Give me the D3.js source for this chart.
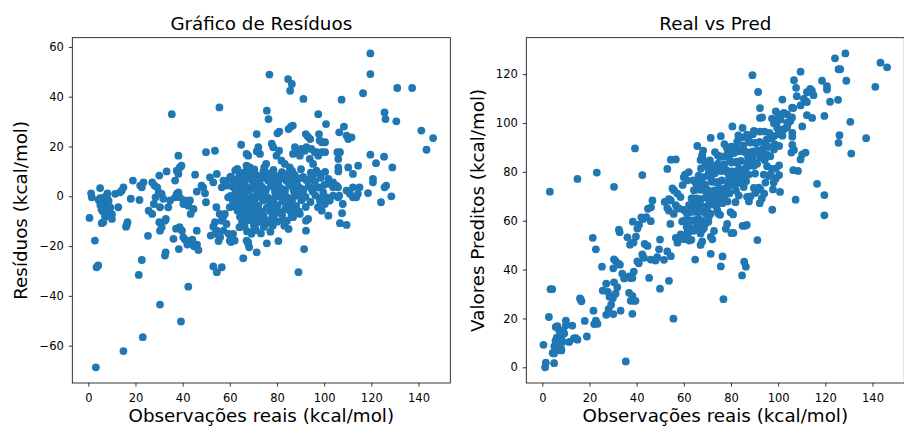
<!DOCTYPE html>
<html>
<head>
<meta charset="utf-8">
<script src="https://cdn.jsdelivr.net/npm/d3@7"></script>
<style>
  html, body { margin: 0; padding: 0; background: #fff; }
  svg { display: block; font-family: "DejaVu Sans", sans-serif; }
</style>
</head>
<body>
<div id="chart"></div>
<script>
// [observação real, resíduo] (kcal/mol)
const observacoes = [
  [0.5,-8.7],[1.2,1.2],[1.5,-0.4],[2.8,-17.8],[3.5,-28.5],[4.2,-27.8],[3.2,-68.7],[5,3.3],
  [4.4,-1.5],[5.1,-3.5],[5.8,-2.8],[6.5,-4.8],[7.2,-1.5],[7.6,-6.9],[6.5,-0.5],[7.9,0.3],[8.6,-1.8],[9.3,-4.5],[10,-7.2],[5,-0.7],[6.1,-6],[8.1,-4],[5.6,-5.2],[7.1,-8.2],[8.9,-6],
  [5.7,-10.8],[6.4,-10.4],[8.1,1.2],[10,-9.1],
  [11.4,1],[13.4,1.6],[14.9,3.6],[14.2,2.3],[12.7,-4.4],[16,-12.2],[16.6,-10.4],[16.3,-11.5],[14.9,-62.2],[18,-1],[18.9,6.3],
  [22,4.3],[22.7,3.6],[23.4,5.6],[21.7,-1.5],[21.4,-31.6],[22.7,-25.6],[23.1,-56.6],[25.3,-15.9],
  [25.6,-5.8],[27.1,-7.1],[27.8,-3.1],[28.5,-0.4],[27.1,5.6],[28.1,4.3],[29.2,3.6],[29.9,1.6],[31.1,1],[31.8,-1],[30.4,-4.4],
  [30.4,-43.5],[30.1,-10.4],[30.4,-13.8],[31.1,-12.4],[32.5,-9.8],[32.9,-9.1],[32.5,-23.8],[32.8,-22.5],[30.1,8.3],[33.2,10],[33.9,-4.4],[34.7,-1.7],[35.4,33],[36.1,-17.1],
  [36.8,-0.4],[37.5,1],[38.2,1.6],[38.8,-0.4],[40.3,-3.1],[40.9,-1.7],[42.4,-3.8],
  [36.8,6.3],[37.5,10.3],[38.2,9],[38.8,11.6],[39.5,12.3],[38.2,16.3],
  [37.2,-13],[38.7,-12.4],[39.7,-13.8],[40.3,-16.5],[38.4,-21.2],[39.3,-50.3],
  [41,-17.4],[42,-19.4],[42.7,-18],[44.1,-17.4],[44.8,-20.1],[46.1,-19.4],
  [42.4,-36.3],[43.4,-7.1],[44.6,-5.1],[43.1,-1.7],[45.3,8.7],[46,1.9],[46,-13.8],[46.7,-21.6],
  [48,4.3],[48.7,3.6],[49.5,1.2],[49.9,17.7],[53.7,18.3],[49.9,-2.4],[51.6,7.6],[53,5.6],[54.5,9],
  [51.9,-15.8],[53.7,-15.1],[55.2,-18],[55.9,-16.5],[53,-12.2],[53.7,-10.4],[54.5,-13.8],
  [53,-28.2],[54.5,-30.5],[56.6,-28.5],[55.6,35.7],
  [56.6,3.6],[57.3,6.3],[58.7,4.3],[60.1,7.6],[61.5,6.3],
  [59.3,-0.4],[60,-4.4],[57.9,-7.1],[56.6,-9.8],[57.3,-13.8],[59.5,-15.1],[60,-17.8],[60.5,-18.4],
  [63.2,11],[64.8,20.7],[65.7,-24.9],[67.1,17],[67.8,16.3],
  [67.1,12.3],[67.8,11.6],[68.5,11.6],[69.2,10.3],[70.6,9],
  [71.4,25],[71.4,18],[72.1,19.7],[72.8,17],[71.4,-22.5],
  [67.1,-17.8],[67.8,-18.4],[68.2,-20.5],[69.2,-14.4],[70.6,-11.1],
  [75.4,13],[74.6,11.6],[75.7,34.4],[76.4,31],[76.8,48.9],[75.7,-18.9],[78.4,19.7],[77.8,21.1],[80.2,25.3],[81,26],[80.6,-18],[78.2,-11.8],
  [84.7,47.1],[86.3,45.1],[85.6,42.4],[84.9,27],[85.9,28],[86.7,28.4],[87.6,19.7],[84.9,-13.1],[89.1,-30.5],[91.5,-21.2],[91.2,39.1],[92.2,25],[93.1,24],[94.1,23],[92.3,-9.8],[93.2,-9.1],[92.3,-13.8],
  [97.5,33],[97.8,25],[98.1,22.4],[99,17.7],[100.4,17.7],[96.8,17.7],[97.5,16.3],[100.8,29],[100.4,21.7],[99,21.7],
  [99,-5.8],[101.8,-7.8],[99.7,-1.7],
  [100.4,9.8],[101.8,7],[102.5,5],[103.8,3.6],[105.2,4.3],[103.8,0.3],[105.9,-0.4],
  [106.4,25.7],[108.4,28],[109.5,24.4],[110.2,23],[111.6,23.7],[107.4,38.8],
  [105.6,17.7],[106.7,17.7],[106,15],[106,11.6],[106,10],
  [106.4,0.3],[107.9,-3.1],[107.6,-6.8],[106.7,-10.8],[109.5,-11.5],
  [109.5,2.3],[110.9,1],[112.2,-0.4],[113.6,-0.4],[114.3,1],[115,3.6],[112.2,3.6],
  [110.2,11.6],[112.2,9],[114.4,12.3],
  [116.5,41.4],[119.6,57.4],[119.6,49.1],[119.6,16.7],[120.7,7],[120.7,5.6],[118.6,1.3],[122,13.3],[124.1,-2.4],[125.4,15.9],[125.6,33.7],[126,31],[125.6,3.6],[126.3,4.3],[128.9,11.6],[128.5,0],[130.6,30.1],[131,43.5],[137.3,43.5],[141.2,26.4],[143.4,18.7],[146.2,23.4],
  [79.8,16.3],[80.9,18.3],[81.9,14.3],[83.3,13],[85.4,11.6],[86.8,17],[88.3,18.3],[89.7,16.3],[90.4,19],[91.8,18.3],[92.5,19.7],[94.6,19],[96,17.7],[93.9,15],[95.3,13],[96.7,10.3],[98.2,9],
  [98.2,3.6],[99.6,1.6],[101,-0.4],[102.4,-1.7],[100.3,-3.1],[98.2,-1.7],[97.4,-4.4],
  [54.3,-4.4],[55.7,-7.1],[57.1,-8.4],[58.6,-11.1],
  [102.4,5],[103.8,5.6],[104.5,4.3],[105.9,3.6],
  [61.4,-15.1],[62.1,-17.8],[67.8,-19.1],[69.2,-15.1],[70.6,-12.4],[72.7,-8.4],[82.6,-9.8],[86.8,-8.4],[89.7,-7.1],
  // núcleo denso
  [62.3,10.4],[66.1,9.6],[70.4,10.8],[74.2,9.9],[78.5,10.6],[82.1,9.7],[86.4,10.2],[90.2,10.9],[94.3,9.5],
  [60.4,7.9],[64.2,8.3],[67.5,7.6],[71.3,8.4],[75.1,7.7],[79.4,8.2],[83.2,7.5],[87.5,8.6],[91.1,7.8],[95.2,8.1],[98.6,7.4],
  [58.4,5.8],[63.1,6.2],[66.3,5.5],[69.4,6.4],[72.6,5.9],[76.2,6.3],[80.5,5.6],[84.1,6.1],[88.3,5.7],[92.4,6.5],[96.1,5.9],
  [61.2,3.8],[64.5,4.3],[67.3,3.6],[70.2,4.4],[73.5,3.9],[77.4,4.2],[81.1,3.7],[85.3,4.5],[89.2,3.8],[93.4,4.1],[97.2,3.5],[100.1,4.6],
  [62.4,2.2],[65.3,1.7],[68.2,2.4],[71.5,1.8],[75.3,2.3],[79.2,1.6],[83.4,2.1],[87.3,1.5],[91.2,2.4],[95.1,1.9],
  [60.3,0.2],[63.4,-0.3],[66.2,0.4],[69.3,-0.2],[72.4,0.3],[76.1,-0.4],[80.3,0.1],[84.2,-0.3],[88.4,0.4],[92.1,-0.2],[96.3,0.3],[99.2,-0.4],
  [61.3,-1.8],[64.4,-2.3],[67.2,-1.6],[70.3,-2.2],[74.1,-1.7],[78.2,-2.4],[82.3,-1.9],[86.2,-2.1],[90.3,-1.6],[94.2,-2.3],
  [62.2,-4.2],[65.4,-3.7],[68.3,-4.4],[72.1,-3.8],[76.3,-4.3],[80.2,-3.6],[84.4,-4.1],[88.1,-3.9],[92.2,-4.3],
  [63.3,-5.8],[66.4,-6.3],[69.1,-5.7],[73.2,-6.2],[77.1,-5.9],[81.3,-6.4],[85.2,-5.6],[89.3,-6.1],
  [64.3,-8.2],[67.4,-7.7],[70.1,-8.3],[74.3,-7.8],[78.1,-8.1],[82.2,-7.6],[86.1,-8.2],
  [65.2,-10.1],[68.1,-9.7],[72.2,-10.3],[76.4,-9.8],[80.1,-10.2],
  [66.3,-12.2],[70.2,-11.7],[74.4,-12.3],[83.1,-11.8],
  [67.3,-14.1],[71.1,-13.6],[77.2,-14.2],
  [68.3,9.1],[76.4,9.2],[84.3,8.9],[72.3,4.9],[79.3,5.1],[86.4,4.8],[65.3,1],[73.4,0.9],[81.2,1.1],[89.3,0.9],
  [69.4,-3],[77.3,-3.1],[85.4,-2.9],[71.2,-7.1],[79.2,-6.9],[87.2,-7],[75.2,-11.1],[73.2,-14.9],[64.1,-12.4],
  [61.8,6.9],[65.7,7.2],[69.6,7],[73.5,7.3],[77.6,6.8],[81.7,7.1],[85.8,6.9],[89.7,7.2],[93.6,6.8],
  [63,3.1],[66.8,2.8],[70.8,3.2],[74.8,2.9],[78.8,3.3],[82.7,2.8],[86.8,3.1],[90.8,2.9],[94.6,3.2],
  [62.7,-0.9],[66.7,-1.1],[70.9,-0.8],[74.6,-1.2],[78.7,-0.9],[82.6,-1.1],[86.7,-0.8],[90.6,-1.2],
  [64,-5.1],[67.8,-4.9],[71.7,-5.2],[75.6,-4.8],[79.6,-5.1],[83.5,-4.9],[87.6,-5.2],
  [66.6,-9],[70.6,-9.2],[74.5,-8.9],[78.6,-9.1],[84.2,-9.9]
];

const reais = observacoes.map(d => d[0]);
const residuos = observacoes.map(d => d[1]);
// predito = real - resíduo
const preditos = observacoes.map(d => d[0] - d[1]);

const xTicks = [0, 20, 40, 60, 80, 100, 120, 140];
const residuoTicks = [-60, -40, -20, 0, 20, 40, 60];
const preditoTicks = [0, 20, 40, 60, 80, 100, 120];

const W = 904, H = 428;
const cor = "#1f77b4";

const svg = d3.select("#chart").append("svg")
    .attr("width", W)
    .attr("height", H);

// limites no estilo matplotlib (margem de 5%)
function dominio(vals) {
    const [a, b] = d3.extent(vals);
    const m = (b - a) * 0.05;
    return [a - m, b + m];
}

function painel(cfg) {
    const top = 37.7, h = 345.3, w = 378;
    const g = svg.append("g");

    const x = d3.scaleLinear().domain(dominio(reais)).range([cfg.left, cfg.left + w]);
    const y = d3.scaleLinear().domain(dominio(cfg.valores)).range([top + h, top]);

    g.append("g")
        .selectAll("circle")
        .data(reais.map((r, i) => [r, cfg.valores[i]]))
        .join("circle")
        .attr("cx", d => x(d[0]))
        .attr("cy", d => y(d[1]))
        .attr("r", 3.9)
        .attr("fill", cor);

    const xAxis = g.append("g")
        .attr("transform", `translate(0,${top + h})`)
        .call(d3.axisBottom(x).tickValues(xTicks).tickSize(3.5).tickPadding(7).tickFormat(d3.format("d")));
    const yAxis = g.append("g")
        .attr("transform", `translate(${cfg.left},0)`)
        .call(d3.axisLeft(y).tickValues(cfg.yTicks).tickSize(3.5).tickPadding(5).tickFormat(d3.format("d")));

    [xAxis, yAxis].forEach(a => {
        a.select(".domain").remove();
        a.selectAll("line").attr("stroke", "#000").attr("stroke-width", 0.8);
        a.selectAll("text")
            .attr("fill", "#000")
            .style("font-family", "DejaVu Sans")
            .style("font-size", "11.5px");
    });

    g.append("rect")
        .attr("x", cfg.left)
        .attr("y", top)
        .attr("width", w)
        .attr("height", h)
        .attr("fill", "none")
        .attr("stroke", "#000")
        .attr("stroke-width", 0.8);

    g.append("text")
        .attr("x", cfg.left + w / 2)
        .attr("y", 30)
        .attr("text-anchor", "middle")
        .style("font-size", "18.3px")
        .text(cfg.titulo);

    g.append("text")
        .attr("x", cfg.left + w / 2)
        .attr("y", 422)
        .attr("text-anchor", "middle")
        .style("font-size", "18.3px")
        .text("Observações reais (kcal/mol)");

    g.append("text")
        .attr("transform", `translate(${cfg.yLabelX},${top + h / 2}) rotate(-90)`)
        .attr("text-anchor", "middle")
        .style("font-size", "18.3px")
        .text(cfg.yRotulo);
}

painel({ titulo: "Gráfico de Resíduos", yRotulo: "Resíduos (kcal/mol)", left: 72.3, yLabelX: 27, valores: residuos, yTicks: residuoTicks });
painel({ titulo: "Real vs Pred", yRotulo: "Valores Preditos (kcal/mol)", left: 526.3, yLabelX: 483.5, valores: preditos, yTicks: preditoTicks });
</script>
</body>
</html>
